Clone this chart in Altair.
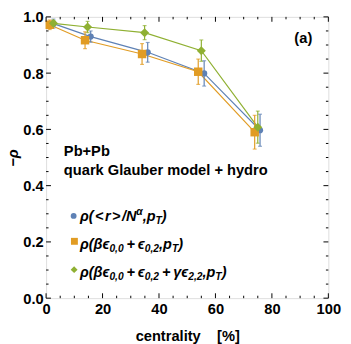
import altair as alt
import pandas as pd

# ---------------- data ----------------
series_names = ["rA", "rB", "rC"]
cent_blue = [2.6, 15.8, 36.0, 56.0, 75.8]
rho_blue = [0.976, 0.930, 0.874, 0.799, 0.597]
err_blue = [0.016, 0.020, 0.035, 0.045, 0.057]
cent_orange = [1.3, 13.8, 34.0, 53.9, 73.9]
rho_orange = [0.972, 0.917, 0.868, 0.805, 0.590]
err_orange = [0.017, 0.030, 0.037, 0.045, 0.060]
cent_green = [2.6, 14.7, 34.9, 55.0, 75.0]
rho_green = [0.977, 0.964, 0.944, 0.880, 0.608]
err_green = [0.010, 0.020, 0.025, 0.038, 0.057]

x_major = [0, 20, 40, 60, 80, 100]
x_minor = [5, 10, 15, 25, 30, 35, 45, 50, 55, 65, 70, 75, 85, 90, 95]
y_major = [0.0, 0.2, 0.4, 0.6, 0.8, 1.0]
y_minor = [0.05, 0.1, 0.15, 0.25, 0.3, 0.35, 0.45, 0.5, 0.55, 0.65, 0.7, 0.75, 0.85, 0.9, 0.95]

# ---------------- styles ----------------
colors = ["#5E81B5", "#E19C24", "#8FB032"]
shapes = ["circle", "square", "diamond"]
marker_sizes = [40, 75, 85]
legend_sizes = [36, 50, 50]
FONT = "Liberation Sans"
W, H = 289, 288
X0, Y0 = 47.3, 12.7  # page position of plot origin

rows = []
for name, cs, rs, es, ms in zip(series_names,
                                [cent_blue, cent_orange, cent_green],
                                [rho_blue, rho_orange, rho_green],
                                [err_blue, err_orange, err_green],
                                marker_sizes):
    for c, r, e in zip(cs, rs, es):
        rows.append(dict(series=name, cent=c, rho=r, lo=r - e, hi=r + e, ms=ms))
df = pd.DataFrame(rows)

xs = alt.Scale(domain=[0, 100], nice=False, zero=False)
ys = alt.Scale(domain=[0, 1], nice=False, zero=False)

NB = "\u00a0"
ax_x = alt.Axis(values=x_major, ticks=False, domain=False, grid=False,
                labelFont=FONT, labelFontSize=15, labelFontWeight="bold",
                labelColor="black", labelPadding=4, labelFlush=False,
                title="centrality" + NB * 4 + "[%]", titleFont=FONT, titleFontSize=15,
                titleFontWeight="bold", titleColor="black", titlePadding=12)
ax_y = alt.Axis(values=y_major, format=".1f", ticks=False, domain=False, grid=False,
                labelFont=FONT, labelFontSize=15, labelFontWeight="bold",
                labelColor="black", labelPadding=3, labelFlush=False,
                title="\u2212\u03c1", titleFont=FONT, titleFontSize=15,
                titleFontWeight="bold", titleFontStyle="italic",
                titleColor="black", titlePadding=2)

X = alt.X("cent:Q", scale=xs, axis=ax_x)
Y = alt.Y("rho:Q", scale=ys, axis=ax_y)
col_scale = alt.Scale(domain=series_names, range=colors)
shape_scale = alt.Scale(domain=series_names, range=shapes)
COL = alt.Color("series:N", scale=col_scale, legend=None)

base = alt.Chart(df)
lines = base.mark_line(strokeWidth=1.2).encode(x=X, y=Y, color=COL, detail="series:N")
bars = base.mark_rule(strokeWidth=1.2).encode(
    x=X, y=alt.Y("lo:Q", scale=ys, axis=ax_y), y2="hi:Q", color=COL)
cap_lo = base.mark_tick(orient="horizontal", size=4, thickness=1.2).encode(
    x=X, y=alt.Y("lo:Q", scale=ys, axis=ax_y), color=COL)
cap_hi = base.mark_tick(orient="horizontal", size=4, thickness=1.2).encode(
    x=X, y=alt.Y("hi:Q", scale=ys, axis=ax_y), color=COL)
points = base.mark_point(filled=True, opacity=1).encode(
    x=X, y=Y, color=COL,
    shape=alt.Shape("series:N", scale=shape_scale, legend=None),
    size=alt.Size("ms:Q", scale=None, legend=None))

# ---------------- inward frame ticks ----------------
def xticks(vals, length):
    d = pd.DataFrame({"cent": vals})
    b = alt.Chart(d).mark_rule(color="black", strokeWidth=1).encode(
        x=alt.X("cent:Q", scale=xs, axis=ax_x))
    return [b.encode(y=alt.value(H), y2=alt.value(H - length)),
            b.encode(y=alt.value(0), y2=alt.value(length))]

def yticks(vals, length):
    d = pd.DataFrame({"rho": vals})
    b = alt.Chart(d).mark_rule(color="black", strokeWidth=1).encode(
        y=alt.Y("rho:Q", scale=ys, axis=ax_y))
    return [b.encode(x=alt.value(0), x2=alt.value(length)),
            b.encode(x=alt.value(W), x2=alt.value(W - length))]

tick_layers = xticks(x_major, 5) + xticks(x_minor, 2.5) + yticks(y_major, 5) + yticks(y_minor, 2.5)

# ---------------- text & legend ----------------
def to_data(px, py):
    return (px - X0) / W * 100, 1 - (py - Y0) / H

plain = [("Pb+Pb", 65.5, 155.5), ("quark Glauber model + hydro", 65.5, 174.5), ("(a)", 301.5, 39.0)]
prow = []
for t, px, py in plain:
    xd, yd = to_data(px, py)
    prow.append(dict(t=t, cent=xd, rho=yd))
plain_text = alt.Chart(pd.DataFrame(prow)).mark_text(
    align="left", baseline="alphabetic", font=FONT, fontSize=15,
    fontWeight="bold", color="black").encode(
    x=alt.X("cent:Q", scale=xs, axis=ax_x), y=alt.Y("rho:Q", scale=ys, axis=ax_y), text="t:N")

# legend key symbols (page pixel centres)
legend_sym_pos = [(75.5, 216.5), (76.3, 242.5), (76.0, 271.5)]
lrow = []
for name, (px, py), s in zip(series_names, legend_sym_pos, legend_sizes):
    xd, yd = to_data(px, py)
    lrow.append(dict(series=name, cent=xd, rho=yd, ms=s))
legend_syms = alt.Chart(pd.DataFrame(lrow)).mark_point(filled=True, opacity=1).encode(
    x=alt.X("cent:Q", scale=xs, axis=ax_x), y=alt.Y("rho:Q", scale=ys, axis=ax_y),
    color=COL, shape=alt.Shape("series:N", scale=shape_scale, legend=None),
    size=alt.Size("ms:Q", scale=None, legend=None))

WEM = {"\u03c1": 0.611, "(": 0.333, ")": 0.333, "<": 0.584, ">": 0.584, "r": 0.389,
       "/": 0.278, "N": 0.722, "\u03b1": 0.611, ",": 0.278, "p": 0.611, "T": 0.611,
       "\u03b2": 0.611, "\u03f5": 0.48, "0": 0.556, "2": 0.556, "+": 0.584, "\u03b3": 0.556}
OP_SPACE = {"<": 0.1, ">": 0.1, "+": 0.2}

label1 = [("\u03c1(", "m"), ("<", "op"), ("r", "m"), (">", "op"), ("/N", "m"),
          ("\u03b1", "sup"), (",p", "m"), ("T", "sub"), (")", "m")]
label2 = [("\u03c1(\u03b2\u03f5", "m"), ("0,0", "sub"), ("+", "op"), ("\u03f5", "m"),
          ("0,2", "sub"), (",p", "m"), ("T", "sub"), (")", "m")]
label3 = [("\u03c1(\u03b2\u03f5", "m"), ("0,0", "sub"), ("+", "op"), ("\u03f5", "m"),
          ("0,2", "sub"), ("+", "op"), ("\u03b3\u03f5", "m"), ("2,2", "sub"),
          (",p", "m"), ("T", "sub"), (")", "m")]
label_bases = [221.5, 250.0, 278.7]
label_x0 = 82.0
FS_MAIN, FS_SMALL = 14.8, 10.5

trow = []
for toks, base_y in zip([label1, label2, label3], label_bases):
    x = label_x0
    for t, kind in toks:
        fs = FS_MAIN if kind in ("m", "op") else FS_SMALL
        sp = OP_SPACE.get(t, 0) * fs if kind == "op" else 0
        x += sp
        dy = {"m": 0, "op": 0, "sub": 3.5, "sup": -5.5}[kind]
        xd, yd = to_data(x, base_y + dy)
        trow.append(dict(t=t, cent=xd, rho=yd, fs=fs))
        x += sum(WEM.get(c, 0.55) for c in t) * fs + sp
legend_text = alt.Chart(pd.DataFrame(trow)).mark_text(
    align="left", baseline="alphabetic", font=FONT, fontWeight="bold",
    fontStyle="italic", color="black").encode(
    x=alt.X("cent:Q", scale=xs, axis=ax_x), y=alt.Y("rho:Q", scale=ys, axis=ax_y),
    text="t:N", size=alt.Size("fs:Q", scale=None, legend=None))

chart = alt.layer(lines, bars, cap_lo, cap_hi, points, *tick_layers,
                  plain_text, legend_syms, legend_text).properties(
    width=W, height=H,
    autosize=alt.AutoSizeParams(type="none"),
    padding={"left": 39, "top": 5, "right": 15, "bottom": 50},
).configure_view(stroke="black", strokeWidth=1).configure(background="white")

chart.save("out.html", embed_options={"renderer": "svg", "actions": False})
